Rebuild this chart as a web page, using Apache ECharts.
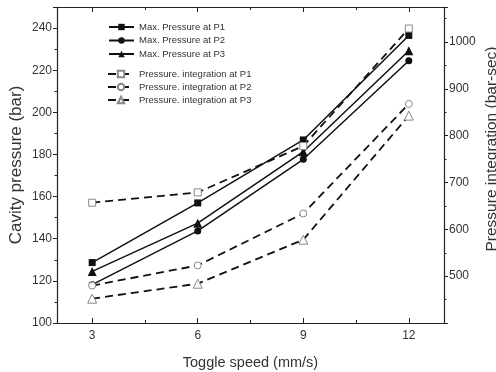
<!DOCTYPE html>
<html>
<head>
<meta charset="utf-8">
<script src="https://cdn.jsdelivr.net/npm/echarts@6/dist/echarts.min.js"></script>
<style>
  html, body { margin: 0; padding: 0; background: #fff; }
  #chart { width: 496px; height: 372px; }
</style>
</head>
<body>
<div id="chart"></div>
<script>
// toggle speeds (mm/s)
var speeds = [3, 6, 9, 12]
var xTickValues = [3, 6, 9, 12]
var xMinorValues = [4.5, 7.5, 10.5]

// max cavity pressure (bar), left axis
var maxP1 = [128.7, 157, 186.9, 236.5]
var maxP2 = [118.2, 143.7, 177.7, 224.5]
var maxP3 = [124.5, 147.4, 181.3, 229.2]

// pressure integration (bar-sec), right axis
var intP1 = [657, 679, 778, 1029]
var intP2 = [480, 523, 634, 868]
var intP3 = [452, 484, 578, 843]

var names = [
  'Max. Pressure at P1',
  'Max. Pressure at P2',
  'Max. Pressure at P3',
  'Pressure. integration at P1',
  'Pressure. integration at P2',
  'Pressure. integration at P3'
]

var font = "'Liberation Sans', Arial, sans-serif"
var ink = '#222'
var txt = '#333'

function pairs(vals) {
  return speeds.map(function (s, i) { return [s, vals[i]] })
}

function solid(name, vals, symbol, size) {
  return {
    name: name,
    type: 'line',
    xAxisIndex: 0,
    yAxisIndex: 0,
    symbol: symbol,
    symbolSize: size,
    itemStyle: { color: '#111' },
    lineStyle: { color: '#111', width: 1.5 },
    data: pairs(vals)
  }
}

function dashed(name, vals, symbol, size) {
  return {
    name: name,
    type: 'line',
    xAxisIndex: 0,
    yAxisIndex: 1,
    symbol: symbol,
    symbolSize: size,
    itemStyle: { color: '#fff', borderColor: '#888', borderWidth: 1 },
    lineStyle: { color: '#111', width: 1.8, type: [8, 5] },
    data: pairs(vals)
  }
}

var chart = echarts.init(document.getElementById('chart'))
chart.setOption({
  animation: false,
  textStyle: { fontFamily: font },
  grid: { left: 57, right: 52, top: 7, bottom: 49, outerBoundsMode: 'none', containLabel: false },
  legend: [
    {
      data: names.slice(0, 3),
      orient: 'vertical',
      left: 108,
      top: 22,
      itemWidth: 25,
      itemHeight: 8,
      itemGap: 3.5,
      padding: 0,
      textStyle: { fontSize: 9.5, color: txt, fontFamily: font }
    },
    {
      data: names.slice(3),
      orient: 'vertical',
      left: 107,
      top: 69,
      itemWidth: 26,
      itemHeight: 8,
      itemGap: 3,
      padding: 0,
      textStyle: { fontSize: 9.5, color: txt, fontFamily: font }
    }
  ],
  xAxis: [
    {
      type: 'value',
      position: 'bottom',
      min: 2,
      max: 13,
      name: 'Toggle speed (mm/s)',
      nameLocation: 'middle',
      nameGap: 32,
      nameMoveOverlap: false,
      nameTextStyle: { fontSize: 14.5, color: txt, fontFamily: font },
      axisLine: { show: true, lineStyle: { color: ink, width: 1.2 } },
      axisTick: { show: true, inside: true, length: 5, customValues: xTickValues, lineStyle: { color: ink } },
      axisLabel: { customValues: xTickValues, fontSize: 12, color: txt, margin: 7 },
      splitLine: { show: false }
    },
    {
      type: 'value',
      position: 'top',
      min: 2,
      max: 13,
      axisLine: { show: true, lineStyle: { color: ink, width: 1.2 } },
      axisTick: { show: true, inside: true, length: 5, customValues: xTickValues, lineStyle: { color: ink } },
      axisLabel: { show: false },
      splitLine: { show: false }
    },
    {
      type: 'value',
      position: 'bottom',
      min: 2,
      max: 13,
      axisLine: { show: false },
      axisTick: { show: true, inside: true, length: 3, customValues: xMinorValues, lineStyle: { color: ink } },
      axisLabel: { show: false },
      splitLine: { show: false }
    },
    {
      type: 'value',
      position: 'top',
      min: 2,
      max: 13,
      axisLine: { show: false },
      axisTick: { show: true, inside: true, length: 3, customValues: xMinorValues, lineStyle: { color: ink } },
      axisLabel: { show: false },
      splitLine: { show: false }
    }
  ],
  yAxis: [
    {
      type: 'value',
      position: 'left',
      min: 100,
      max: 250,
      interval: 20,
      name: 'Cavity pressure (bar)',
      nameLocation: 'middle',
      nameGap: 32,
      nameMoveOverlap: false,
      nameTextStyle: { fontSize: 17, color: txt, fontFamily: font },
      axisLine: { show: true, lineStyle: { color: ink, width: 1.2 } },
      axisTick: { show: true, length: 4, lineStyle: { color: ink } },
      minorTick: { show: true, splitNumber: 2, length: 2.5, lineStyle: { color: ink } },
      axisLabel: { fontSize: 12, color: txt, margin: 5, showMaxLabel: false },
      splitLine: { show: false }
    },
    {
      type: 'value',
      position: 'right',
      min: 400,
      max: 1075,
      interval: 100,
      name: 'Pressure integration (bar-sec)',
      nameLocation: 'middle',
      nameGap: 40,
      nameMoveOverlap: false,
      nameTextStyle: { fontSize: 15.5, color: txt, fontFamily: font, padding: [0, 0, 0, 32] },
      axisLine: { show: true, lineStyle: { color: ink, width: 1.2 } },
      axisTick: { show: true, length: 4, lineStyle: { color: ink } },
      minorTick: { show: true, splitNumber: 2, length: 2.5, lineStyle: { color: ink } },
      axisLabel: {
        fontSize: 12, color: txt, margin: 5, showMinLabel: false, showMaxLabel: false,
        formatter: function (v) { return String(v) }
      },
      splitLine: { show: false }
    }
  ],
  series: [
    solid(names[0], maxP1, 'rect', 7),
    solid(names[1], maxP2, 'circle', 7),
    solid(names[2], maxP3, 'triangle', 9),
    dashed(names[3], intP1, 'rect', 7),
    dashed(names[4], intP2, 'circle', 7),
    dashed(names[5], intP3, 'triangle', 9)
  ]
})
</script>
</body>
</html>
